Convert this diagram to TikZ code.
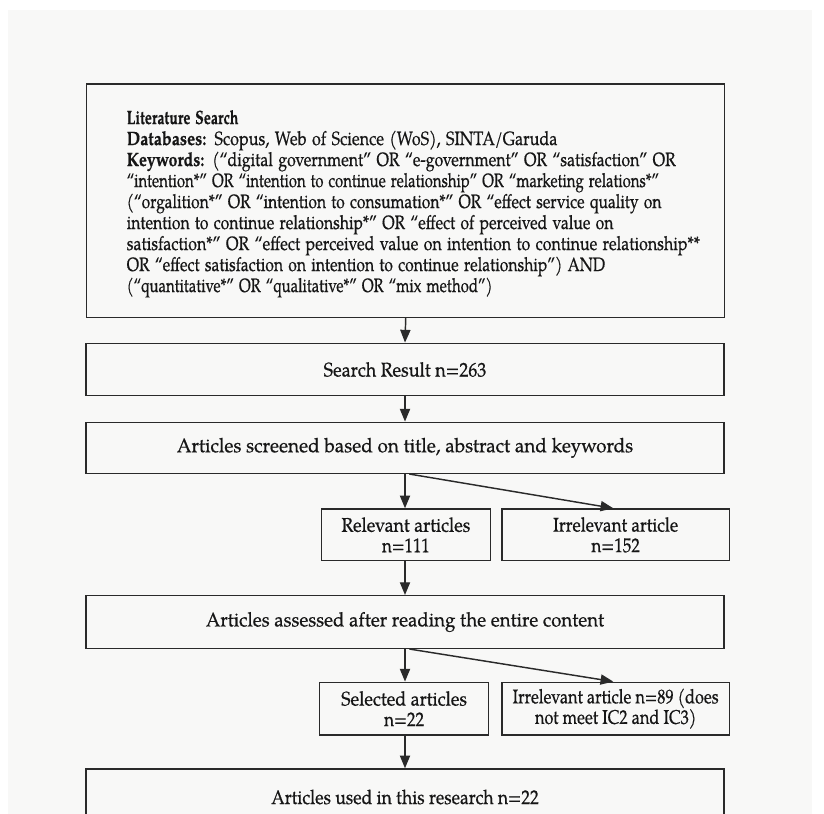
\documentclass[tikz,border=0pt]{standalone}
\usepackage{fontspec}
\setmainfont{TeX Gyre Pagella}[FakeBold=0.6]
\usepackage{graphicx}
\usetikzlibrary{arrows.meta}
\newlength{\pxu}\setlength{\pxu}{0.55pt}
\newcommand{\fw}[2]{\resizebox{#1\pxu}{\height}{#2}}
\newcommand{\tl}[2]{\hspace*{40\pxu}\fw{#1}{#2}}
\definecolor{bgc}{HTML}{F8F8F7}
\definecolor{linec}{HTML}{2A2A2A}
\definecolor{txtc}{HTML}{161616}
\tikzset{
  box/.style={draw=linec, line width=0.8pt, inner sep=0pt, align=center, text=txtc,
    font=\fontsize{10.9}{11.3}\selectfont},
  arr/.style={draw=linec, line width=0.8pt, -{Triangle[length=7pt, width=5.6pt]}},
}
\begin{document}
\begin{tikzpicture}[x=0.55pt, y=-0.55pt]
\useasboundingbox (0,0) rectangle (824,814);
\clip (0,0) rectangle (824,814);
\fill[white] (0,0) rectangle (824,814);
\fill[bgc] (8,10) rectangle (812,814);
% top box
\node[box, anchor=north west, align=left, text width=638\pxu, minimum height=233.4\pxu,
  font=\fontsize{10.6}{11.55}\selectfont] (lit) at (86,83.3) {%
\tl{111.7}{\rule{0pt}{20\pxu}\textbf{Literature Search}}\\
\tl{430.7}{\textbf{Databases:} Scopus, Web of Science (WoS), SINTA/Garuda}\\
\tl{549}{\textbf{Keywords:} (“digital government” OR “e-government” OR “satisfaction” OR}\\
\tl{532.3}{“intention*” OR “intention to continue relationship” OR “marketing relations*”}\\
\tl{534.7}{(“orgalition*” OR “intention to consumation*” OR “effect service quality on}\\
\tl{486.7}{intention to continue relationship*” OR “effect of perceived value on}\\
\tl{573.3}{satisfaction*” OR “effect perceived value on intention to continue relationship**}\\
\tl{478.3}{OR “effect satisfaction on intention to continue relationship”) AND}\\
\tl{365.7}{(“quantitative*” OR “qualitative*” OR “mix method”)}};
% flow boxes
\node[box, minimum width=638\pxu, minimum height=52.4\pxu] (srch) at (405,369.5)
  {\fw{162.7}{Search Result n=263}};
\node[box, minimum width=638\pxu, minimum height=51\pxu] (scr) at (405,447.8)
  {\fw{456.4}{Articles screened based on title, abstract and keywords}};
\node[box, minimum width=169.2\pxu, minimum height=51.7\pxu] (rel) at (405.9,534.85)
  {\fw{128.9}{Relevant articles}\\\fw{47.7}{n=111}};
\node[box, minimum width=227.7\pxu, minimum height=51.7\pxu] (irr1) at (615.65,534.85)
  {\fw{125}{Irrelevant article}\\\fw{48.6}{n=152}};
\node[box, minimum width=638\pxu, minimum height=52.6\pxu] (ass) at (405,622)
  {\fw{398.3}{Articles assessed after reading the entire content}};
\node[box, minimum width=169.2\pxu, minimum height=52.7\pxu] (sel) at (404.1,708.65)
  {\fw{125.8}{Selected articles}\\\fw{40}{n=22}};
\node[box, minimum width=227.7\pxu, minimum height=52.7\pxu] (irr2) at (615.65,708.65)
  {\fw{206}{Irrelevant article n=89 (does}\\\fw{161.4}{not meet IC2 and IC3)}};
\node[box, minimum width=638\pxu, minimum height=56\pxu] (fin) at (405,797)
  {\fw{267.5}{Articles used in this research n=22}};
% connectors
\draw[arr] (lit.south) -- (srch.north);
\draw[arr] (srch.south) -- (scr.north);
\draw[arr] (scr.south) -- (scr.south |- rel.north);
\draw[arr] ([xshift=2.4pt]scr.south) -- ([xshift=-1.3pt]irr1.north);
\draw[arr] (ass.north |- rel.south) -- (ass.north);
\draw[arr] (ass.south) -- (ass.south |- sel.north);
\draw[arr] ([xshift=2.4pt]ass.south) -- ([xshift=-1.3pt]irr2.north);
\draw[arr] (fin.north |- sel.south) -- (fin.north);
\end{tikzpicture}
\end{document}
